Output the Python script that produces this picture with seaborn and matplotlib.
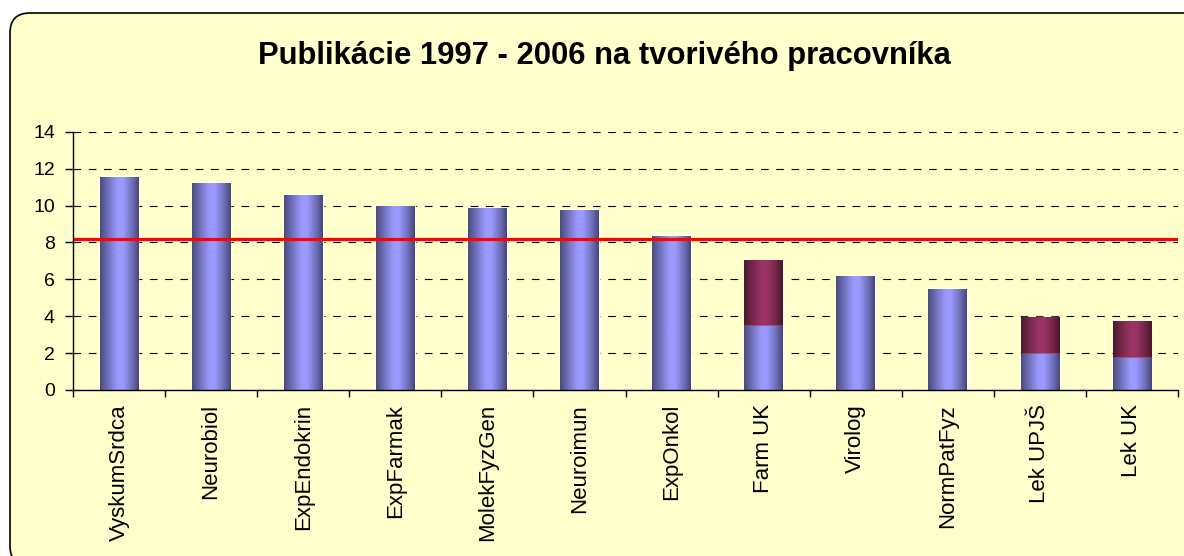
import numpy as np
import pandas as pd
import matplotlib
matplotlib.use("Agg")
import matplotlib.pyplot as plt
import seaborn as sns
from matplotlib.colors import LinearSegmentedColormap
from matplotlib.patches import FancyBboxPatch
from matplotlib.ticker import FixedLocator

categories = ["VyskumSrdca", "Neurobiol", "ExpEndokrin", "ExpFarmak", "MolekFyzGen",
              "Neuroimun", "ExpOnkol", "Farm UK", "Virolog", "NormPatFyz", "Lek UPJŠ", "Lek UK"]
base_values = [11.54, 11.22, 10.57, 9.97, 9.86, 9.76, 8.35, 3.47, 6.18, 5.47, 1.95, 1.73]
extra_values = [0, 0, 0, 0, 0, 0, 0, 3.58, 0, 0, 1.99, 2.01]
average_value = 8.16
title_text = "Publikácie 1997 - 2006 na tvorivého pracovníka"
yticks = [0, 2, 4, 6, 8, 10, 12, 14]

sns.set_theme(style="white")
plt.rcParams["font.family"] = ["Liberation Sans", "DejaVu Sans"]
plt.rcParams["lines.scale_dashes"] = False

df = pd.DataFrame({
    "category": categories,
    "base": base_values,
    "total": [b + e for b, e in zip(base_values, extra_values)],
})

W, H = 1184, 556
fig = plt.figure(figsize=(W / 100, H / 100), dpi=100)
fig.patch.set_facecolor("white")

# rounded chart-area frame (pixel-based via inches transform)
frame = FancyBboxPatch((10 / 100, (H - 566) / 100), (1205 - 10) / 100, (566 - 13) / 100,
                       boxstyle="round,pad=0,rounding_size=0.2",
                       transform=fig.dpi_scale_trans, facecolor="#FFFFCC",
                       edgecolor="black", linewidth=1.2, zorder=-5)
fig.patches.append(frame)

left, right, top, bottom = 73, 1178, 131.7, 390
ax = fig.add_axes([left / W, (H - bottom) / H, (right - left) / W, (bottom - top) / H])
ax.set_zorder(2)
ax.set_facecolor("none")

bar_w = 0.42
sns.barplot(data=df, x="category", y="total", color="#993366", width=bar_w,
            saturation=1, ax=ax, zorder=3)
n_total = len(ax.patches)
sns.barplot(data=df, x="category", y="base", color="#9999FF", width=bar_w,
            saturation=1, ax=ax, zorder=4)

blue_cmap = LinearSegmentedColormap.from_list(
    "cyl_blue", [(0, "#4a4a7e"), (0.2, "#6f6fb8"), (0.45, "#9999ff"), (0.6, "#9999ff"),
                 (0.85, "#6a6ab0"), (1, "#45457a")])
purple_cmap = LinearSegmentedColormap.from_list(
    "cyl_purple", [(0, "#4a1830"), (0.2, "#722748"), (0.45, "#993366"), (0.6, "#993366"),
                   (0.85, "#6e2545"), (1, "#451629")])
grad = np.linspace(0, 1, 256).reshape(1, -1)
for i, p in enumerate(list(ax.patches)):
    x0, y0 = p.get_x(), p.get_y()
    w, h = p.get_width(), p.get_height()
    if h <= 0:
        continue
    cmap = purple_cmap if i < n_total else blue_cmap
    im = ax.imshow(grad, cmap=cmap, aspect="auto", extent=(x0, x0 + w, y0, y0 + h),
                   zorder=p.get_zorder() + 0.1, interpolation="bilinear")
    im.set_clip_path(p)

ax.axhline(average_value, color="#FF0000", linewidth=2.3, zorder=6)

ax.set_xlim(-0.5, len(categories) - 0.5)
ax.set_ylim(0, 14)
ax.set_yticks(yticks)
ax.yaxis.grid(True, color="black", linestyle=(0, (5.5, 5.5)), linewidth=0.8, zorder=1)
ax.set_axisbelow(True)
ax.set_xlabel("")
ax.set_ylabel("")

for s in ["top", "right"]:
    ax.spines[s].set_visible(False)
for s in ["left", "bottom"]:
    ax.spines[s].set_color("black")
    ax.spines[s].set_linewidth(1.0)
    ax.spines[s].set_zorder(7)

ax.tick_params(axis="x", which="major", length=0, pad=10, labelsize=16, labelcolor="black",
               labelrotation=90)
ax.xaxis.set_minor_locator(FixedLocator(np.arange(-0.5, len(categories), 1.0)))
ax.tick_params(axis="x", which="minor", bottom=True, length=5, width=1, color="black", direction="out")
ax.tick_params(axis="y", which="major", left=True, length=6, width=1, color="black",
               direction="out", pad=7, labelsize=14, labelcolor="black")
for lab in ax.get_xticklabels():
    lab.set_ha("center")
    lab.set_va("top")

fig.text(604 / W, (H - 56) / H, title_text, ha="center", va="center",
         fontsize=22.3, fontweight="bold", color="black")

fig.savefig("out.png", dpi=100, facecolor="white")
